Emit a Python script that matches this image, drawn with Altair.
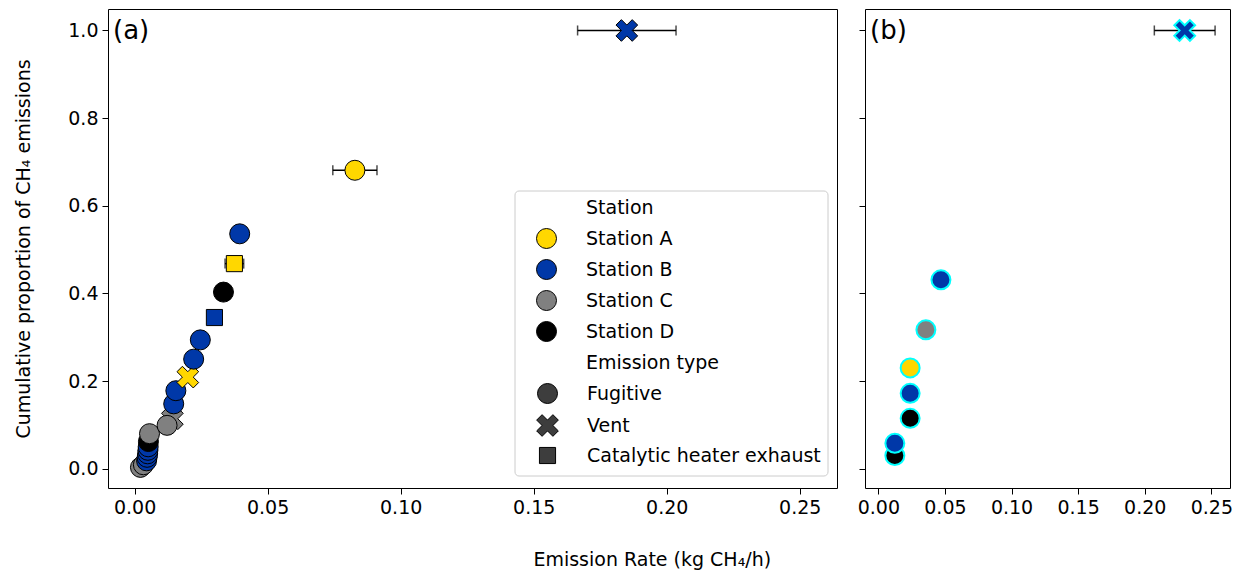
import altair as alt
import pandas as pd

FONT = "DejaVu Sans"

# ---------------- data: panel (a) ----------------
a_station = ["Station C", "Station C", "Station B", "Station B", "Station B", "Station B", "Station B",
             "Station D", "Station C", "Station C", "Station C", "Station B", "Station B", "Station A",
             "Station B", "Station B", "Station B", "Station D", "Station A", "Station B", "Station A",
             "Station B"]
a_type = ["Fugitive", "Fugitive", "Fugitive", "Fugitive", "Fugitive", "Fugitive", "Fugitive",
          "Fugitive", "Fugitive", "Vent", "Fugitive", "Fugitive", "Fugitive", "Vent",
          "Fugitive", "Fugitive", "Catalytic heater exhaust", "Fugitive", "Catalytic heater exhaust",
          "Fugitive", "Fugitive", "Vent"]
a_rate = [0.0022, 0.0033, 0.0045, 0.0047, 0.0049, 0.0050, 0.0051, 0.0052, 0.0056, 0.0142, 0.0122,
          0.0147, 0.0155, 0.0200, 0.0222, 0.0247, 0.0300, 0.0334, 0.0375, 0.0395, 0.0828, 0.1850]
a_cum = [0.003, 0.009, 0.018, 0.026, 0.034, 0.042, 0.050, 0.062, 0.080, 0.114, 0.099,
         0.148, 0.178, 0.209, 0.250, 0.294, 0.345, 0.403, 0.468, 0.536, 0.681, 1.000]

a_err_rate = [0.0375, 0.0828, 0.1850]
a_err_cum = [0.468, 0.681, 1.000]
a_err_half = [0.0035, 0.0083, 0.0185]

# ---------------- data: panel (b) ----------------
b_station = ["Station D", "Station B", "Station D", "Station B", "Station A", "Station C", "Station B", "Station B"]
b_type = ["Fugitive", "Fugitive", "Fugitive", "Fugitive", "Fugitive", "Fugitive", "Fugitive", "Vent"]
b_rate = [0.0124, 0.0124, 0.0239, 0.0239, 0.0239, 0.0357, 0.0470, 0.2300]
b_cum = [0.030, 0.058, 0.115, 0.172, 0.230, 0.317, 0.431, 1.000]

b_err_rate = [0.2300]
b_err_cum = [1.000]
b_err_half = [0.0228]

# ---------------- categories / styles ----------------
stations = ["Station A", "Station B", "Station C", "Station D"]
station_colors = ["#FFD700", "#0038A8", "#808080", "#000000"]
types = ["Fugitive", "Vent", "Catalytic heater exhaust"]
X_PATH = "M0.5,-1L0,-0.5L-0.5,-1L-1,-0.5L-0.5,0L-1,0.5L-0.5,1L0,0.5L0.5,1L1,0.5L0.5,0L1,-0.5Z"
type_shapes = ["circle", X_PATH, "square"]

x_ticks = [0.0, 0.05, 0.10, 0.15, 0.20, 0.25]
y_ticks = [0.0, 0.2, 0.4, 0.6, 0.8, 1.0]
x_domain = [-0.0100, 0.2640]
y_domain = [-0.044, 1.049]

df_a = pd.DataFrame({"station": a_station, "type": a_type, "rate": a_rate, "cum": a_cum})
df_b = pd.DataFrame({"station": b_station, "type": b_type, "rate": b_rate, "cum": b_cum})
err_a = pd.DataFrame({"rate": a_err_rate, "cum": a_err_cum, "half": a_err_half})
err_b = pd.DataFrame({"rate": b_err_rate, "cum": b_err_cum, "half": b_err_half})

xscale = alt.Scale(domain=x_domain, nice=False, zero=False)
yscale = alt.Scale(domain=y_domain, nice=False, zero=False)

common_axis = dict(grid=False, domain=False, tickSize=6, tickColor="black", tickWidth=1,
                   labelColor="black", labelFontSize=19, labelFont=FONT, labelPadding=4,
                   labelFlush=False, labelOverlap=False)

x_axis = alt.Axis(values=x_ticks, format=".2f", title=None, **common_axis)
y_axis_a = alt.Axis(values=y_ticks, format=".1f", title="Cumulative proportion of CH₄ emissions",
                    titleFontSize=19, titleFont=FONT, titleFontWeight="normal", titleColor="black",
                    titleX=-85, titleY=239.5, titleAngle=270, titleAlign="center",
                    titleBaseline="middle", **common_axis)
y_axis_b = alt.Axis(values=y_ticks, format=".1f", title=None, labels=False, **common_axis)


def errorbars(df, y_axis):
    base = alt.Chart(df).transform_calculate(lo="datum.rate - datum.half", hi="datum.rate + datum.half")
    rule = base.mark_rule(color="black", strokeWidth=1.5).encode(
        x=alt.X("lo:Q", scale=xscale, axis=x_axis),
        x2="hi:Q",
        y=alt.Y("cum:Q", scale=yscale, axis=y_axis),
    )
    caps = base.transform_fold(["lo", "hi"], as_=["side", "xv"]).mark_tick(
        color="black", orient="vertical", size=10, thickness=1.5
    ).encode(
        x=alt.X("xv:Q", scale=xscale, axis=x_axis),
        y=alt.Y("cum:Q", scale=yscale, axis=y_axis),
    )
    return rule + caps


def points(df, y_axis, stroke, sw, sizes, legends):
    if legends:
        common_leg = dict(orient="none", legendX=478, padding=0,
                          symbolStrokeColor="black", symbolStrokeWidth=1,
                          symbolOffset=-50, rowPadding=6, titlePadding=10, labelLimit=400,
                          titleFontSize=19, titleFont=FONT, titleFontWeight="normal", titleColor="black",
                          labelFontSize=19, labelFont=FONT, labelColor="black", symbolOpacity=1)
        color_legend = alt.Legend(title="Station", legendY=190, symbolType="circle", symbolSize=400,
                                  labelOffset=29, **common_leg)
        type_legend = alt.Legend(title="Emission type", legendY=345, symbolFillColor="#3d3d3d",
                                 labelOffset=28, **common_leg)
    else:
        color_legend = None
        type_legend = None
    return alt.Chart(df).mark_point(filled=True, opacity=1, stroke=stroke, strokeWidth=sw).encode(
        x=alt.X("rate:Q", scale=xscale, axis=x_axis),
        y=alt.Y("cum:Q", scale=yscale, axis=y_axis),
        color=alt.Color("station:N", scale=alt.Scale(domain=stations, range=station_colors),
                        legend=color_legend),
        shape=alt.Shape("type:N", scale=alt.Scale(domain=types, range=type_shapes), legend=type_legend),
        size=alt.Size("type:N", scale=alt.Scale(type="ordinal", domain=types, range=sizes),
                      legend=type_legend),
    )


def panel_label(txt):
    return alt.Chart(pd.DataFrame({"t": [txt]})).mark_text(
        align="left", baseline="middle", fontSize=26, font=FONT, color="black"
    ).encode(x=alt.value(5), y=alt.value(22), text="t:N")


legend_frame = alt.Chart(pd.DataFrame({"k": [0]})).mark_rect(
    fill="white", stroke="#cccccc", strokeWidth=1, cornerRadius=4
).encode(x=alt.value(407), x2=alt.value(720), y=alt.value(182), y2=alt.value(467))

panel_a = alt.layer(
    errorbars(err_a, y_axis_a),
    points(df_a, y_axis_a, "black", 1, [400, 470, 260], True),
    panel_label("(a)"),
    legend_frame,
).properties(width=729, height=479)

panel_b = alt.layer(
    errorbars(err_b, y_axis_b),
    points(df_b, y_axis_b, "#00FFFF", 2, [360, 430, 240], False),
    panel_label("(b)"),
).properties(width=365, height=479)

chart = alt.hconcat(panel_a, panel_b, spacing=28, bounds="flush").resolve_scale(
    color="independent", shape="independent", size="independent"
).properties(
    title=alt.TitleParams(text="Emission Rate (kg CH₄/h)", orient="bottom", anchor="middle",
                          fontSize=19, font=FONT, fontWeight="normal", color="black",
                          offset=33, dx=29),
    padding={"left": 13, "top": 8, "right": 5, "bottom": 5},
).configure(font=FONT).configure_view(stroke="black", strokeWidth=1)

chart.save("out.html", embed_options={"renderer": "svg", "actions": False})
